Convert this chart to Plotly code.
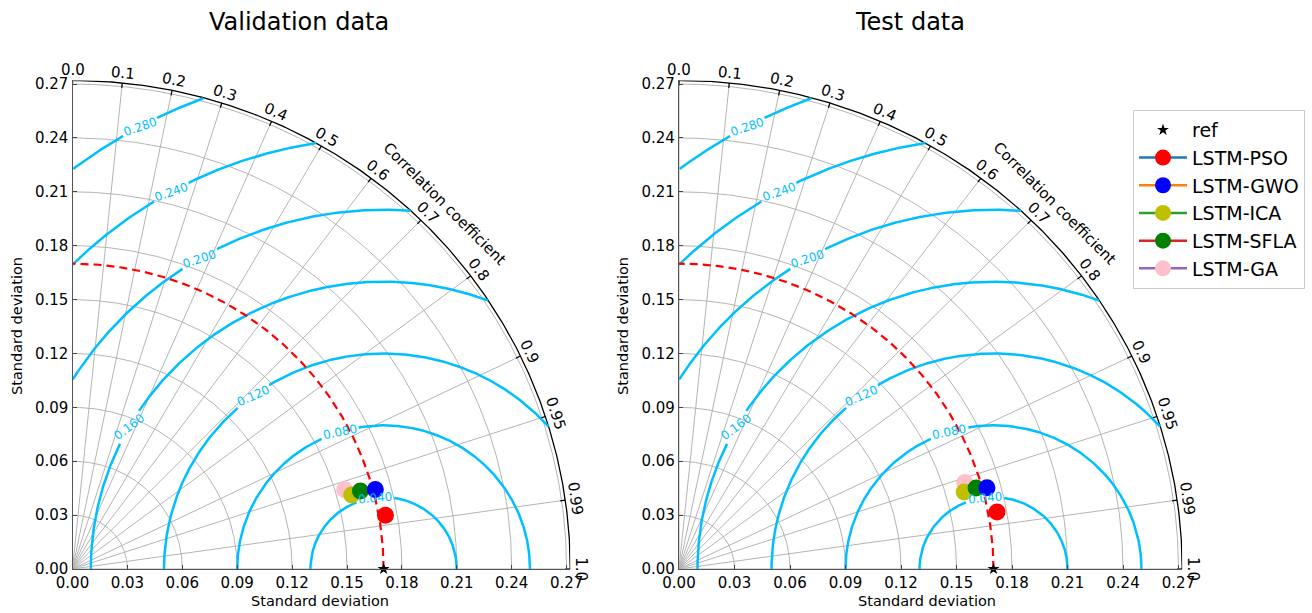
import numpy as np
import plotly.graph_objects as go

# ---------------- data ----------------
models = ["LSTM-PSO", "LSTM-GWO", "LSTM-ICA", "LSTM-SFLA", "LSTM-GA"]
ref_std_val = 0.17
ref_std_test = 0.17
val_std = [0.1736, 0.1713, 0.1580, 0.1632, 0.1551]
val_corr = [0.985, 0.966, 0.9655, 0.964, 0.9587]
test_std = [0.1748, 0.1725, 0.1600, 0.1668, 0.1618]
test_corr = [0.9834, 0.965, 0.9635, 0.9627, 0.9546]

corr_ticks = [0.0, 0.1, 0.2, 0.3, 0.4, 0.5, 0.6, 0.7, 0.8, 0.9, 0.95, 0.99, 1.0]
corr_tick_labels = ["0.0", "0.1", "0.2", "0.3", "0.4", "0.5", "0.6", "0.7", "0.8",
                    "0.9", "0.95", "0.99", "1.0"]
std_ticks = [0.00, 0.03, 0.06, 0.09, 0.12, 0.15, 0.18, 0.21, 0.24, 0.27]
std_tick_labels = ["0.00", "0.03", "0.06", "0.09", "0.12", "0.15", "0.18", "0.21", "0.24", "0.27"]
rms_levels = [0.04, 0.08, 0.12, 0.16, 0.20, 0.24, 0.28]
rms_labels = ["0.040", "0.080", "0.120", "0.160", "0.200", "0.240", "0.280"]
panel_titles = ["Validation data", "Test data"]

# ---------------- style / layout constants ----------------
W, H = 1312, 613
RMAX = 0.272
FONT = "DejaVu Sans"
marker_colors = ["red", "blue", "#bfbf00", "green", "pink"]
legend_line_colors = ["#1f77b4", "#ff7f0e", "#2ca02c", "#d62728", "#9467bd"]
draw_order = [4, 2, 3, 1, 0]
# label angle (deg, about the reference point) and text rotation for RMS labels
rms_label_phi = [96.7, 107.4, 126.5, 150.4, 120.2, 118.9, 118.4]
rms_label_rot = [-5, -11, -24, -37, -18, -19, -19]
GRID = "#b4b4b4"
CONTOUR = "#00bfff"

# pixel geometry of each panel: origin x, x scale (px/unit)
panels_px = [(72.5, 1830.0), (679.0, 1850.0)]
ORIGIN_Y, YSCALE = 569.0, 1796.0
xdoms = []
for ox, sx in panels_px:
    xdoms.append([ox / W, (ox + RMAX * sx) / W])
ydom = [(H - ORIGIN_Y) / H, (H - (ORIGIN_Y - RMAX * YSCALE)) / H]


def to_paper(p, x, y):
    xd = xdoms[p]
    return (xd[0] + x / RMAX * (xd[1] - xd[0]), ydom[0] + y / RMAX * (ydom[1] - ydom[0]))


fig = go.Figure()
annotations = []

for p in range(2):
    xa = "x" if p == 0 else "x2"
    ya = "y" if p == 0 else "y2"
    ref = ref_std_val if p == 0 else ref_std_test
    stds = val_std if p == 0 else test_std
    corrs = val_corr if p == 0 else test_corr

    def line(x, y, color, width, dash=None):
        fig.add_trace(go.Scatter(x=x, y=y, mode="lines", xaxis=xa, yaxis=ya,
                                 line=dict(color=color, width=width, dash=dash),
                                 hoverinfo="skip", showlegend=False))

    th = np.linspace(0, np.pi / 2, 300)
    # std grid arcs
    for s in std_ticks[1:]:
        line(s * np.cos(th), s * np.sin(th), GRID, 1)
    # correlation radial lines
    for c in corr_ticks:
        a = np.arccos(c)
        line([0, RMAX * np.cos(a)], [0, RMAX * np.sin(a)], GRID, 1)
    # outer boundary
    line(RMAX * np.cos(th), RMAX * np.sin(th), "black", 1.3)
    # ticks on correlation arc
    for c in corr_ticks:
        a = np.arccos(c)
        line([RMAX * np.cos(a), (RMAX - 0.0028) * np.cos(a)],
             [RMAX * np.sin(a), (RMAX - 0.0028) * np.sin(a)], "black", 1.2)
    # RMS contours
    for lev, lab, phi, rot in zip(rms_levels, rms_labels, rms_label_phi, rms_label_rot):
        ph = np.linspace(0, np.pi, 1500)
        x = ref + lev * np.cos(ph)
        y = lev * np.sin(ph)
        r = np.hypot(x, y)
        gap = 0.0105 / lev
        keep = (r <= RMAX) & (x >= 0) & (np.abs(ph - np.radians(phi)) > gap)
        xs = np.where(keep, x, np.nan)
        ys = np.where(keep, y, np.nan)
        line(xs, ys, CONTOUR, 2.5)
        lx = ref + lev * np.cos(np.radians(phi))
        ly = lev * np.sin(np.radians(phi))
        px_, py_ = to_paper(p, lx, ly)
        annotations.append(dict(x=px_, y=py_, xref="paper", yref="paper", text=lab,
                                showarrow=False, textangle=rot,
                                font=dict(family=FONT, size=12, color=CONTOUR),
                                xanchor="center", yanchor="middle"))
    # reference std arc
    line(ref * np.cos(th), ref * np.sin(th), "red", 2.2, "8px,5px")

    # reference point
    fig.add_trace(go.Scatter(x=[ref], y=[0], mode="markers", xaxis=xa, yaxis=ya,
                             marker=dict(symbol="star", size=9, color="black"),
                             name="ref", showlegend=(p == 1), legendrank=1,
                             cliponaxis=False))
    # models
    for i in draw_order:
        a = np.arccos(corrs[i])
        fig.add_trace(go.Scatter(
            x=[stds[i] * np.cos(a)], y=[stds[i] * np.sin(a)],
            mode="lines+markers", xaxis=xa, yaxis=ya, name=models[i],
            line=dict(color=legend_line_colors[i], width=2.5),
            marker=dict(size=17, color=marker_colors[i]),
            showlegend=(p == 1), legendrank=2 + i, cliponaxis=False))

    # correlation tick labels
    for c, lab in zip(corr_ticks, corr_tick_labels):
        a = np.arccos(c)
        rl = 0.2778
        px_, py_ = to_paper(p, rl * np.cos(a), rl * np.sin(a))
        annotations.append(dict(x=px_, y=py_, xref="paper", yref="paper", text=lab,
                                showarrow=False, textangle=90 - np.degrees(a),
                                font=dict(family=FONT, size=15, color="black"),
                                xanchor="center", yanchor="middle"))
    px_, py_ = to_paper(p, 0.2878 * np.cos(np.pi / 4), 0.2878 * np.sin(np.pi / 4))
    annotations.append(dict(x=px_, y=py_, xref="paper", yref="paper",
                            text="Correlation coefficient", showarrow=False, textangle=45,
                            font=dict(family=FONT, size=15, color="black"),
                            xanchor="center", yanchor="middle"))

# titles and axis titles (pixel positions)
title_px = [(298.5, 22), (909.6, 22)]
xlabel_px = [(320, 601), (927, 601)]
ylabel_px = [(17, 326), (623, 326)]
for p in range(2):
    annotations.append(dict(x=title_px[p][0] / W, y=1 - title_px[p][1] / H, xref="paper",
                            yref="paper", text=panel_titles[p], showarrow=False,
                            font=dict(family=FONT, size=24, color="black"),
                            xanchor="center", yanchor="middle"))
    annotations.append(dict(x=xlabel_px[p][0] / W, y=1 - xlabel_px[p][1] / H, xref="paper",
                            yref="paper", text="Standard deviation", showarrow=False,
                            font=dict(family=FONT, size=14.5, color="black"),
                            xanchor="center", yanchor="middle"))
    annotations.append(dict(x=ylabel_px[p][0] / W, y=1 - ylabel_px[p][1] / H, xref="paper",
                            yref="paper", text="Standard deviation", showarrow=False,
                            textangle=-90,
                            font=dict(family=FONT, size=14.5, color="black"),
                            xanchor="center", yanchor="middle"))

axis_common = dict(range=[0, RMAX], tickvals=std_ticks, ticktext=std_tick_labels,
                   ticks="inside", ticklen=4, tickcolor="#444", showgrid=False,
                   zeroline=False, showline=True, linecolor="#555", linewidth=1.2,
                   tickfont=dict(family=FONT, size=15, color="black"), fixedrange=True)

fig.update_layout(
    width=W, height=H, margin=dict(l=0, r=0, t=0, b=0, autoexpand=False),
    paper_bgcolor="white", plot_bgcolor="white",
    xaxis=dict(domain=xdoms[0], anchor="y", **axis_common),
    yaxis=dict(domain=ydom, anchor="x", **axis_common),
    xaxis2=dict(domain=xdoms[1], anchor="y2", **axis_common),
    yaxis2=dict(domain=ydom, anchor="x2", **axis_common),
    annotations=annotations,
    showlegend=True,
    legend=dict(x=1133 / W, y=1 - 110 / H, xanchor="left", yanchor="top",
                bordercolor="#cccccc", borderwidth=1, bgcolor="white", itemwidth=48,
                font=dict(family=FONT, size=19, color="black"), tracegroupgap=0),
    font=dict(family=FONT),
)

fig.write_html("out.html")
